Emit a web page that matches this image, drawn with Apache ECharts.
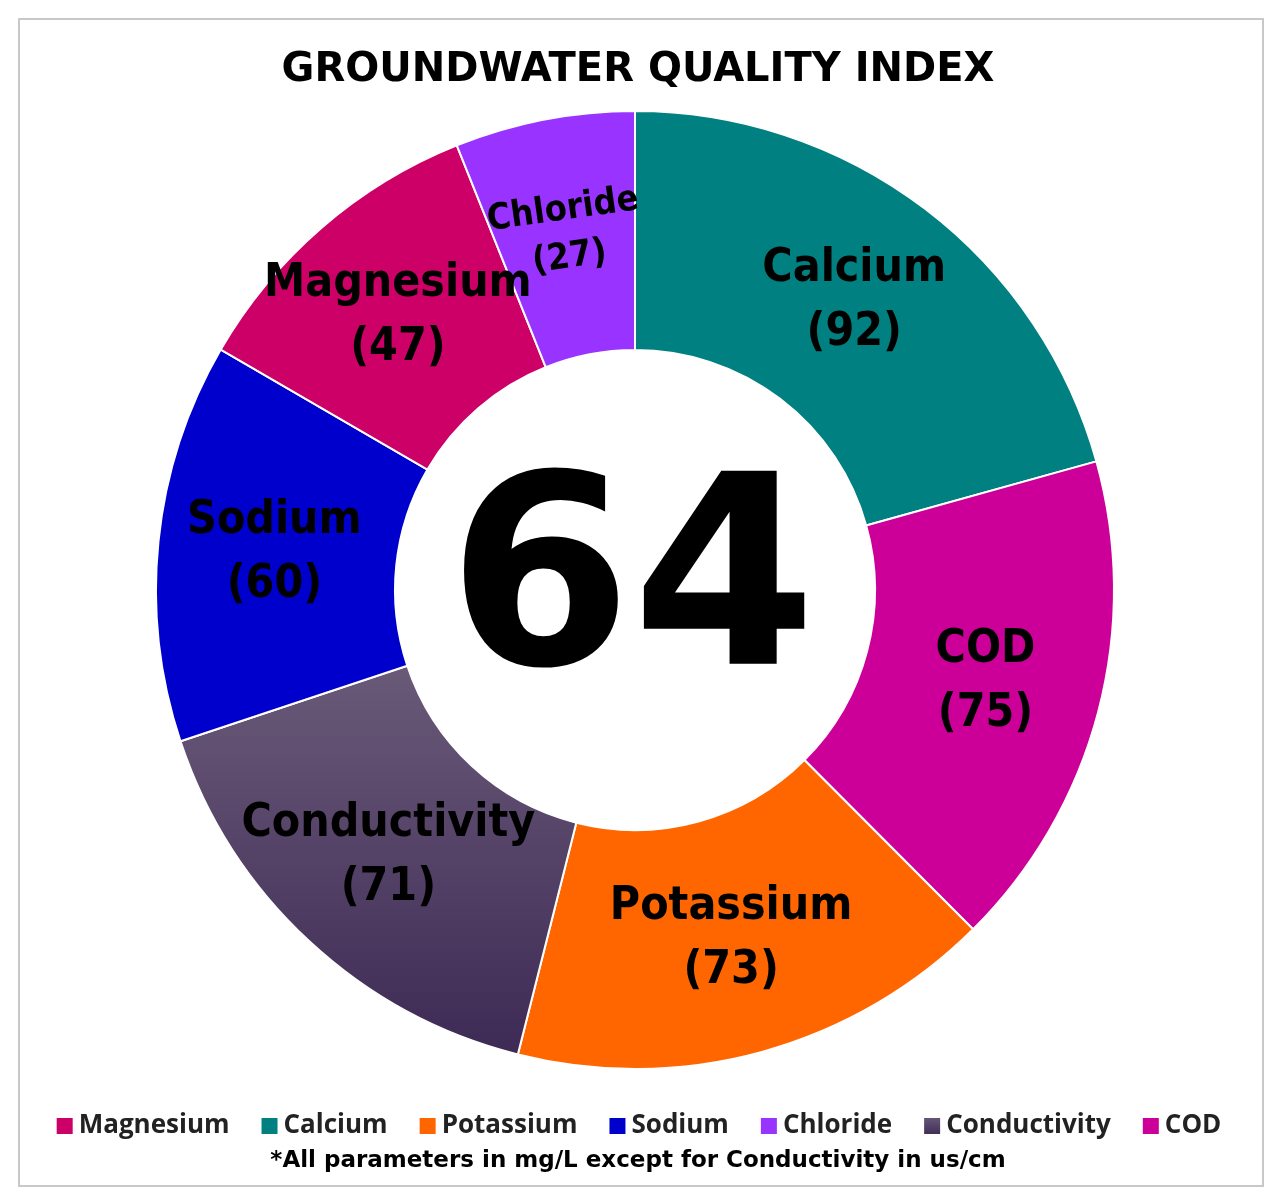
<!DOCTYPE html>
<html lang="en">
<head>
    <meta charset="UTF-8">
    <title>Groundwater Quality Index</title>
    <script src="https://cdn.jsdelivr.net/npm/echarts@6/dist/echarts.min.js"></script>
    <style>
        body { margin: 0; background: #fff; }
        #frame { position: absolute; left: 18px; top: 18px; width: 1242px; height: 1165px; border: 2px solid #c8c8c8; }
        #chart { width: 1276px; height: 1202px; }
    </style>
</head>
<body>
    <div id="frame"></div>
    <div id="chart"></div>
    <script>
        // slice order, clockwise from the top
        var names = ['Calcium', 'COD', 'Potassium', 'Conductivity', 'Sodium', 'Magnesium', 'Chloride'];
        var values = [92, 75, 73, 71, 60, 47, 27];
        var legendOrder = ['Magnesium', 'Calcium', 'Potassium', 'Sodium', 'Chloride', 'Conductivity', 'COD'];
        var indexValue = 64;

        var colors = {
            Calcium: '#008080',
            COD: '#CC0099',
            Potassium: '#FF6600',
            Conductivity: new echarts.graphic.LinearGradient(0, 0, 0, 1, [
                { offset: 0, color: '#6a5a78' }, { offset: 1, color: '#3d2a55' }
            ]),
            Sodium: '#0000CC',
            Magnesium: '#CC0066',
            Chloride: '#9933FF'
        };

        var myChart = echarts.init(document.getElementById('chart'));

        var option = {
            title: {
                text: 'GROUNDWATER QUALITY INDEX',
                left: 'center',
                top: 46,
                textStyle: { fontFamily: 'DejaVu Sans', fontWeight: 'bold', fontSize: 40, color: '#000', letterSpacing: 3 }
            },
            legend: {
                data: legendOrder,
                bottom: 58,
                left: 'center',
                itemWidth: 18,
                itemHeight: 18,
                itemGap: 30,
                icon: 'rect',
                textStyle: { fontFamily: 'Open Sans', fontWeight: 'bold', fontSize: 26, color: '#222' }
            },
            graphic: [
                {
                    type: 'text', left: 'center', top: 1150,
                    style: { text: '*All parameters in mg/L except for Conductivity in us/cm', fontFamily: 'DejaVu Sans', fontWeight: 'bold', fontSize: 23, fill: '#000', letterSpacing: 2 }
                },
                {
                    type: 'text', x: 632, y: 595,
                    style: { text: String(indexValue), fontFamily: 'DejaVu Sans', fontWeight: 'bold', fontSize: 265, fill: '#000', align: 'center', verticalAlign: 'middle' }
                }
            ],
            series: [
                {
                    type: 'pie',
                    center: [635, 590],
                    radius: [240, 479],
                    startAngle: 90,
                    clockwise: true,
                    animation: false,
                    labelLayout: { hideOverlap: false },
                    itemStyle: { borderColor: '#fff', borderWidth: 2 },
                    label: {
                        position: 'inside',
                        formatter: '{b}\n({c})',
                        fontFamily: 'DejaVu Sans Condensed',
                        fontWeight: 'bold',
                        fontSize: 46,
                        lineHeight: 64,
                        color: '#000'
                    },
                    labelLine: { show: false },
                    data: names.map(function (n, i) {
                        var d = { name: n, value: values[i], itemStyle: { color: colors[n] } };
                        if (n === 'Chloride') d.label = { fontSize: 36, lineHeight: 48, rotate: 8, overflow: 'none' };
                        return d;
                    })
                }
            ]
        };

        myChart.setOption(option);
    </script>
</body>
</html>
